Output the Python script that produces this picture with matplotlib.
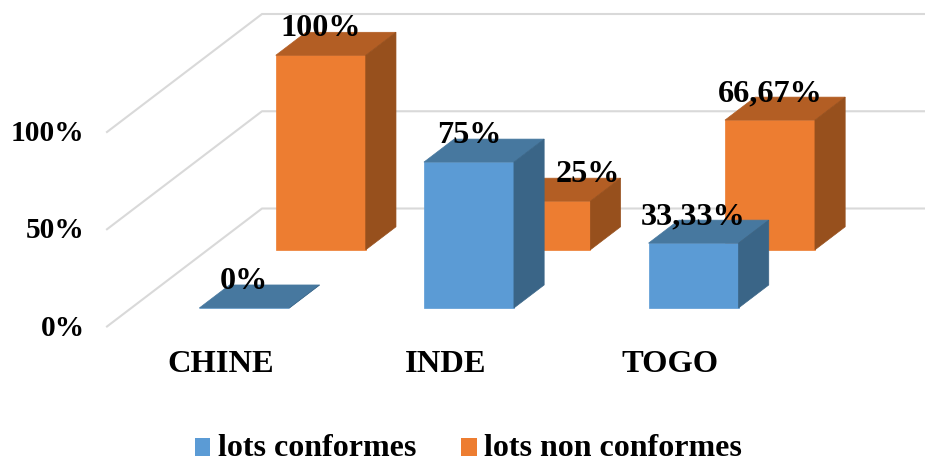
import matplotlib
matplotlib.use("Agg")
import matplotlib.pyplot as plt
from matplotlib.patches import Patch, Polygon

categories = ["CHINE", "INDE", "TOGO"]
conformes = [0, 75, 33.33]
non_conformes = [100, 25, 66.67]
labels_conformes = ["0%", "75%", "33,33%"]
labels_non_conformes = ["100%", "25%", "66,67%"]
y_ticks = [0, 50, 100]
y_tick_labels = ["0%", "50%", "100%"]

plt.rcParams["font.family"] = "Liberation Serif"
plt.rcParams["font.weight"] = "bold"

# layout of the oblique view, in pixels of the 925x459 picture
WALL_X, FLOOR_Y = 107, 326.5
DEPTH_X, DEPTH_Y = 155, -118
PX_PER_PCT = 1.945
SLOT_X, SLOT_W = 175, 224.6
BAR_W = 90

BLUE = ("#5B9BD5", "#47789F", "#3A6587")
ORANGE = ("#ED7D31", "#B35E24", "#97501D")


def project(x, depth, value):
    return x + depth * DEPTH_X, FLOOR_Y + depth * DEPTH_Y - value * PX_PER_PCT


def draw_bar(ax, i, value, d0, d1, colors):
    x0 = SLOT_X + i * SLOT_W
    x1 = x0 + BAR_W
    front, top, side = colors
    faces = [
        ([(x0, d0, 0), (x1, d0, 0), (x1, d0, value), (x0, d0, value)], front),
        ([(x0, d0, value), (x1, d0, value), (x1, d1, value), (x0, d1, value)], top),
        ([(x1, d0, 0), (x1, d1, 0), (x1, d1, value), (x1, d0, value)], side),
    ]
    for corners, color in faces:
        pts = [project(*c) for c in corners]
        ax.add_patch(Polygon(pts, closed=True, facecolor=color, edgecolor=color, linewidth=0.5))


def bar_label(ax, i, value, d0, text, dx=0):
    x, y = project(SLOT_X + i * SLOT_W + BAR_W / 2, d0, value)
    ax.text(x + dx, y - 26.5, text, ha="center", va="center", fontsize=23.2, color="black", zorder=10)


fig = plt.figure(figsize=(9.25, 4.59), dpi=100)
ax = fig.add_axes([0, 0, 1, 1])
ax.set_xlim(0, 925)
ax.set_ylim(459, 0)
ax.axis("off")

# walls and gridlines
for v, lab in zip(y_ticks, y_tick_labels):
    x_front, y_front = project(WALL_X, 0, v)
    x_back, y_back = project(WALL_X, 1, v)
    ax.plot([x_front, x_back, 925], [y_front, y_back, y_back], color="#D9D9D9", linewidth=1.5, zorder=1)
    ax.text(84.5, y_front + 1.5, lab, ha="right", va="center", fontsize=21.2)

# orange row stands behind the blue one
for i, v in enumerate(non_conformes):
    draw_bar(ax, i, v, 0.65, 0.845, ORANGE)
for i, v in enumerate(conformes):
    draw_bar(ax, i, v, 0.157, 0.352, BLUE)

for i, cat in enumerate(categories):
    ax.text(SLOT_X + i * SLOT_W + 46, 364, cat, ha="center", va="center", fontsize=23.4)
    bar_label(ax, i, conformes[i], 0.157, labels_conformes[i])
    bar_label(ax, i, non_conformes[i], 0.65, labels_non_conformes[i], dx=42 if i == 1 else 0)

handles = [Patch(facecolor=BLUE[0]), Patch(facecolor=ORANGE[0])]
leg = ax.legend(
    handles, ["lots conformes", "lots non conformes"],
    loc="center", bbox_to_anchor=(468 / 925, 1 - 448 / 459), ncol=2, frameon=False,
    prop={"family": "Liberation Serif", "weight": "bold", "size": 23},
    handlelength=0.5, handleheight=0.5, handletextpad=0.22, columnspacing=1.4,
    borderpad=0, borderaxespad=0,
)
# squares sit a little lower than the default handle position
for p in leg.get_patches():
    p.set_y(p.get_y() - 1.8)

plt.savefig("out.png", dpi=100)
plt.close()
